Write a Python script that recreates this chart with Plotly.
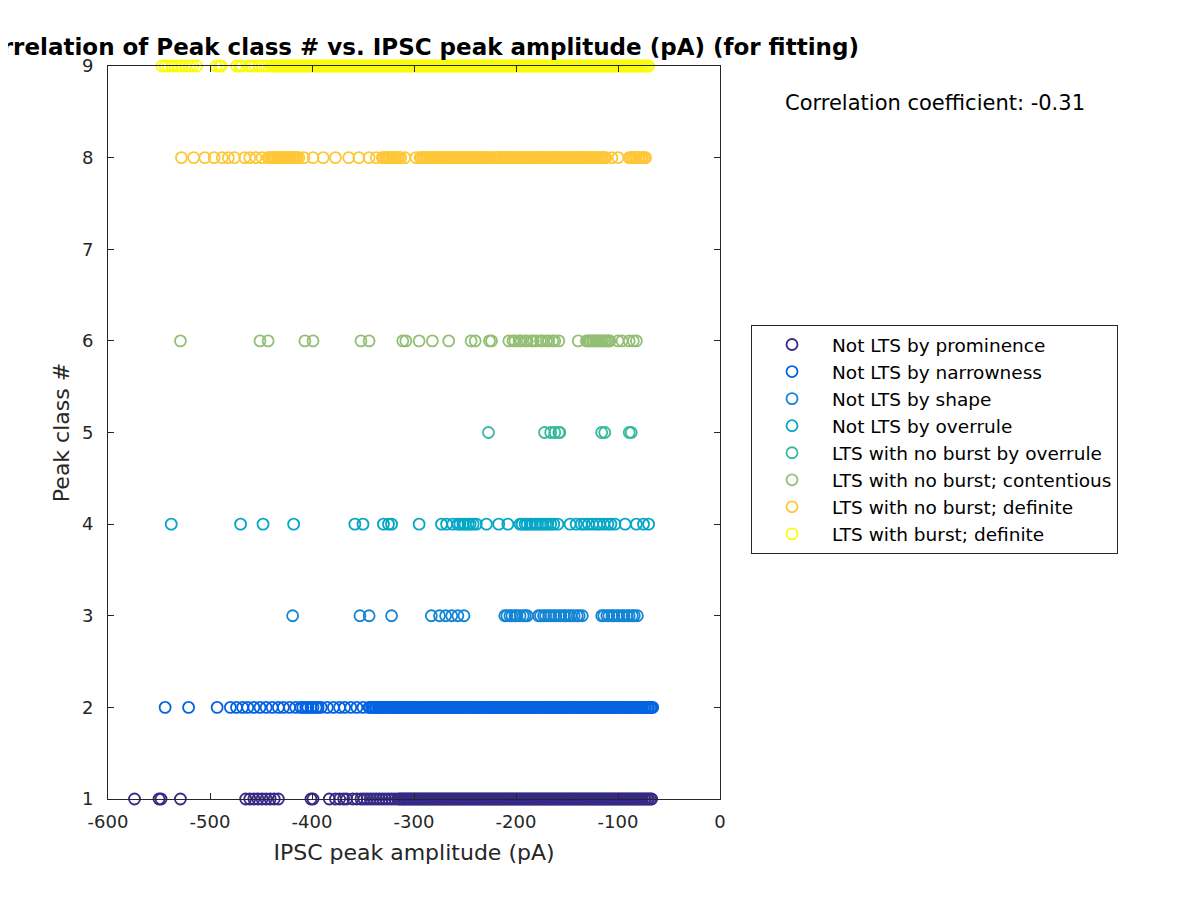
import plotly.graph_objects as go

labels = [
    "Not LTS by prominence",
    "Not LTS by narrowness",
    "Not LTS by shape",
    "Not LTS by overrule",
    "LTS with no burst by overrule",
    "LTS with no burst; contentious",
    "LTS with no burst; definite",
    "LTS with burst; definite",
]
classes = [1, 2, 3, 4, 5, 6, 8, 9]
colors = ["#352a87", "#0363e1", "#1485d4", "#06a7c6",
          "#38b99e", "#92bf73", "#ffc737", "#f9fb0e"]

amp_prominence = [
    -574, -550, -548, -529, -465, -461, -457, -453, -449, -445, -441, -437, -433,
    -401, -399, -383, -377, -373, -369, -366, -360, -356,
    -352, -349, -346, -343, -340, -337, -334, -331, -328, -325, -322, -319, -316,
    -314, -313, -311, -310, -308, -307, -305, -304, -302, -301, -299, -298, -296, -295,
    -293, -292, -290, -289, -287, -286, -284, -283, -281, -280, -278, -277, -275, -274,
    -272, -271, -269, -268, -266, -265, -263, -262, -260, -259, -257, -256, -254, -253,
    -251, -250, -248, -247, -245, -244, -242, -241, -239, -238, -236, -235, -233, -232,
    -230, -229, -227, -226, -224, -223, -221, -220, -218, -217, -215, -214, -212, -211,
    -209, -208, -206, -205, -203, -202, -200, -199, -197, -196, -194, -193, -191, -190,
    -188, -187, -185, -184, -182, -181, -179, -178, -176, -175, -173, -172, -170, -169,
    -167, -166, -164, -163, -161, -160, -158, -157, -155, -154, -152, -151, -149, -148,
    -146, -145, -143, -142, -140, -139, -137, -136, -134, -133, -131, -130, -128, -127,
    -125, -124, -122, -121, -119, -118, -116, -115, -113, -112, -110, -109, -107, -106,
    -104, -103, -101, -100, -98, -97, -95, -94, -92, -91, -89, -88, -86, -85, -83, -82,
    -80, -79, -77, -76, -74, -73, -71, -70, -68, -67]
amp_narrowness = [
    -544, -521, -493, -480, -474, -468, -463, -457, -451, -445, -439, -433, -428, -422,
    -416, -411, -409, -406, -404, -401, -399, -396, -394, -391, -385, -379, -373, -368,
    -362, -356, -350,
    -344, -343, -341, -340, -338, -337, -335, -334, -332, -331, -329, -328, -326, -325,
    -323, -322, -320, -319, -317, -316,
    -314, -313, -311, -310, -308, -307, -305, -304, -302, -301, -299, -298, -296, -295,
    -293, -292, -290, -289, -287, -286, -284, -283, -281, -280, -278, -277, -275, -274,
    -272, -271, -269, -268, -266, -265, -263, -262, -260, -259, -257, -256, -254, -253,
    -251, -250, -248, -247, -245, -244, -242, -241, -239, -238, -236, -235, -233, -232,
    -230, -229, -227, -226, -224, -223, -221, -220, -218, -217, -215, -214, -212, -211,
    -209, -208, -206, -205, -203, -202, -200, -199, -197, -196, -194, -193, -191, -190,
    -188, -187, -185, -184, -182, -181, -179, -178, -176, -175, -173, -172, -170, -169,
    -167, -166, -164, -163, -161, -160, -158, -157, -155, -154, -152, -151, -149, -148,
    -146, -145, -143, -142, -140, -139, -137, -136, -134, -133, -131, -130, -128, -127,
    -125, -124, -122, -121, -119, -118, -116, -115, -113, -112, -110, -109, -107, -106,
    -104, -103, -101, -100, -98, -97, -95, -94, -92, -91, -89, -88, -86, -85, -83, -82,
    -80, -79, -77, -76, -74, -73, -71, -70, -68, -67, -66]
amp_shape = [
    -419, -353, -344, -322, -283, -275, -269, -263, -257, -251,
    -211, -209, -206, -204, -201, -199, -196, -193, -191, -189,
    -178, -176, -173, -171, -168, -166, -163, -161, -158, -156, -153, -151, -148, -146,
    -143, -140, -138, -135,
    -116, -114, -111, -109, -106, -104, -101, -99, -96, -94, -91, -89, -86, -84, -81]
amp_overrule = [
    -538, -470, -448, -418, -358, -350, -330, -325, -322, -295, -273, -268, -262,
    -257, -255, -252, -250, -247, -245, -242, -239, -229, -217, -208,
    -196, -194, -191, -189, -186, -184, -181, -179, -176, -174, -171, -169, -166, -163,
    -159, -147, -141, -136, -133, -129, -125, -121, -118, -114, -110, -107, -103,
    -93, -82, -75, -70]
amp_nb_overrule = [-227, -172, -166, -162, -158, -157, -116, -113, -89, -87]
amp_nb_contentious = [
    -529, -451, -443, -407, -399, -352, -344, -311, -308, -295, -282, -266, -244, -240,
    -226, -224, -207, -203, -201, -197, -195, -191, -189, -185, -183, -180, -176, -174,
    -170, -168, -164, -162, -158, -139,
    -131, -130, -128, -127, -125, -124, -122, -121, -119, -118, -116, -115, -113, -112,
    -110, -109, -108, -100, -96, -89, -85, -82]
amp_nb_definite = [
    -528, -516, -505, -496, -488, -482, -476, -466, -461, -455, -449,
    -443, -442, -440, -439, -437, -436, -434, -433, -431, -430, -428, -427, -425, -424,
    -422, -421, -419, -418, -416, -415, -413,
    -408, -399, -389, -377, -364, -354, -344, -337,
    -331, -330, -328, -327, -325, -324, -322, -321, -319, -318, -316, -315, -313,
    -309, -298,
    -294, -293, -291, -290, -288, -287, -285, -284, -282, -281, -279, -278, -276, -275,
    -273, -272, -270, -269, -267, -266, -264, -263, -261, -260, -258, -257, -255, -254,
    -252, -251, -249, -248, -246, -245, -243, -242, -240, -239, -237, -236, -234, -233,
    -231, -230, -228, -227, -225, -222, -221, -219, -218, -216, -215, -213, -212,
    -210, -209, -207, -206, -204, -203, -201, -200, -198, -197, -195, -194, -192, -191,
    -189, -188, -186, -185, -183, -182, -180, -179, -177, -176, -174, -173, -171, -170,
    -168, -167, -165, -164, -162, -161, -159, -158, -156, -155, -153, -152, -150, -149,
    -147, -146, -144, -143, -141, -140, -138, -137, -135, -134, -132, -131, -129, -128,
    -126, -125, -123, -122, -120, -119, -117, -116, -114, -113, -112,
    -106, -100,
    -89, -88, -86, -85, -83, -82, -80, -79, -77, -76, -74, -73]
amp_burst = [
    -547, -544, -541, -537, -534, -531, -528, -524, -520, -517, -513, -494, -491, -489,
    -474, -471, -469, -462, -459, -456, -452, -449, -445,
    -440, -439, -437, -436, -434, -433, -431, -430, -428, -427, -425, -424, -422, -421,
    -419, -418, -416, -415, -413, -412, -410, -409, -407, -406, -404, -403, -401, -400,
    -398, -397, -395, -394, -392, -391, -389, -388, -386, -385, -383, -382, -380, -379,
    -377, -376, -374, -373, -371, -370, -368, -367, -365, -364, -362, -361, -359, -358,
    -356, -355, -353, -352, -350, -349, -347, -346, -344, -343, -341, -340, -338, -337,
    -335, -334, -332, -331, -329, -328, -326, -325, -323, -322, -320, -319, -317, -316,
    -314, -313, -311, -310, -308, -307, -305, -304, -302, -301, -299, -298, -296, -295,
    -293, -292, -290, -289, -287, -286, -284, -283, -281, -280, -278, -277, -275, -274,
    -272, -271, -269, -268, -266, -265, -263, -262, -260, -259, -257, -256, -254, -253,
    -251, -250, -248, -247, -245, -244, -242, -241, -239, -238, -236, -235, -233, -232,
    -230, -229, -227, -226, -224, -223, -221, -220, -218, -217, -215, -214, -212, -211,
    -209, -208, -206, -205, -203, -202, -200, -199, -197, -196, -194, -193, -191, -190,
    -188, -187, -185, -184, -182, -181, -179, -178, -176, -175, -173, -172, -170, -169,
    -167, -166, -164, -163, -161, -160, -158, -157, -155, -154, -152, -151, -149, -148,
    -146, -145, -143, -142, -140, -139, -137, -136, -134, -133, -131, -130, -128, -127,
    -125, -124, -122, -121, -119, -118, -116, -115, -113, -112, -110, -109, -107, -106,
    -104, -103, -101, -100, -98, -97, -95, -94, -92, -91, -89, -88, -86, -85, -83, -82,
    -80, -79, -77, -76, -74, -73, -71, -70]

amplitudes = [amp_prominence, amp_narrowness, amp_shape, amp_overrule,
              amp_nb_overrule, amp_nb_contentious, amp_nb_definite, amp_burst]

x_ticks = [-600, -500, -400, -300, -200, -100, 0]
y_ticks = [1, 2, 3, 4, 5, 6, 7, 8, 9]
corr_text = "Correlation coefficient: -0.31"
title_text = "Correlation of Peak class # vs. IPSC peak amplitude (pA) (for fitting)"

FONT = "DejaVu Sans"
TXT = "#262626"

fig = go.Figure()
for lab, cls, col, amps in zip(labels, classes, colors, amplitudes):
    fig.add_trace(go.Scatter(
        x=amps, y=[cls] * len(amps), mode="markers", name=lab,
        marker=dict(symbol="circle-open", size=11, color=col, line=dict(width=1.8, color=col)),
        cliponaxis=False,
    ))

fig.update_layout(
    width=1200, height=900,
    margin=dict(l=100, r=488, t=58, b=109),
    paper_bgcolor="white", plot_bgcolor="white",
    font=dict(family=FONT, size=18, color=TXT),
    title=dict(text="<b>" + title_text + "</b>", x=0.5, xref="paper", xanchor="center",
               y=1 - 39 / 900, yref="container", yanchor="middle",
               font=dict(family=FONT, size=23, color="black")),
    xaxis=dict(range=[-600, 0], tickvals=x_ticks, ticktext=[str(v) for v in x_ticks],
               ticks="inside", ticklen=6, tickcolor=TXT, showline=True, linecolor=TXT,
               linewidth=1, mirror="ticks", showgrid=False, zeroline=False,
               ticklabelstandoff=6,
               title=dict(text="IPSC peak amplitude (pA)", font=dict(size=22, color=TXT), standoff=14),
               tickfont=dict(size=18, color=TXT)),
    yaxis=dict(range=[1, 9], tickvals=y_ticks, ticks="inside", ticklen=6, tickcolor=TXT,
               showline=True, linecolor=TXT, linewidth=1, mirror="ticks", showgrid=False,
               zeroline=False, ticklabelstandoff=10,
               title=dict(text="Peak class #", font=dict(size=22, color=TXT), standoff=6),
               tickfont=dict(size=18, color=TXT)),
    legend=dict(x=(751 - 108) / 612, xanchor="left", y=(799 - 325) / 733, yanchor="top",
                bordercolor=TXT, borderwidth=1, bgcolor="white",
                font=dict(family=FONT, size=18.5, color="black"), itemwidth=70,
                tracegroupgap=0),
    showlegend=True,
)
fig.add_annotation(text=corr_text, xref="paper", yref="paper",
                   x=(783 - 108) / 612, y=(799 - 103) / 733, xanchor="left", yanchor="middle",
                   showarrow=False, font=dict(family=FONT, size=21, color="black"))

fig.write_html("out.html")
